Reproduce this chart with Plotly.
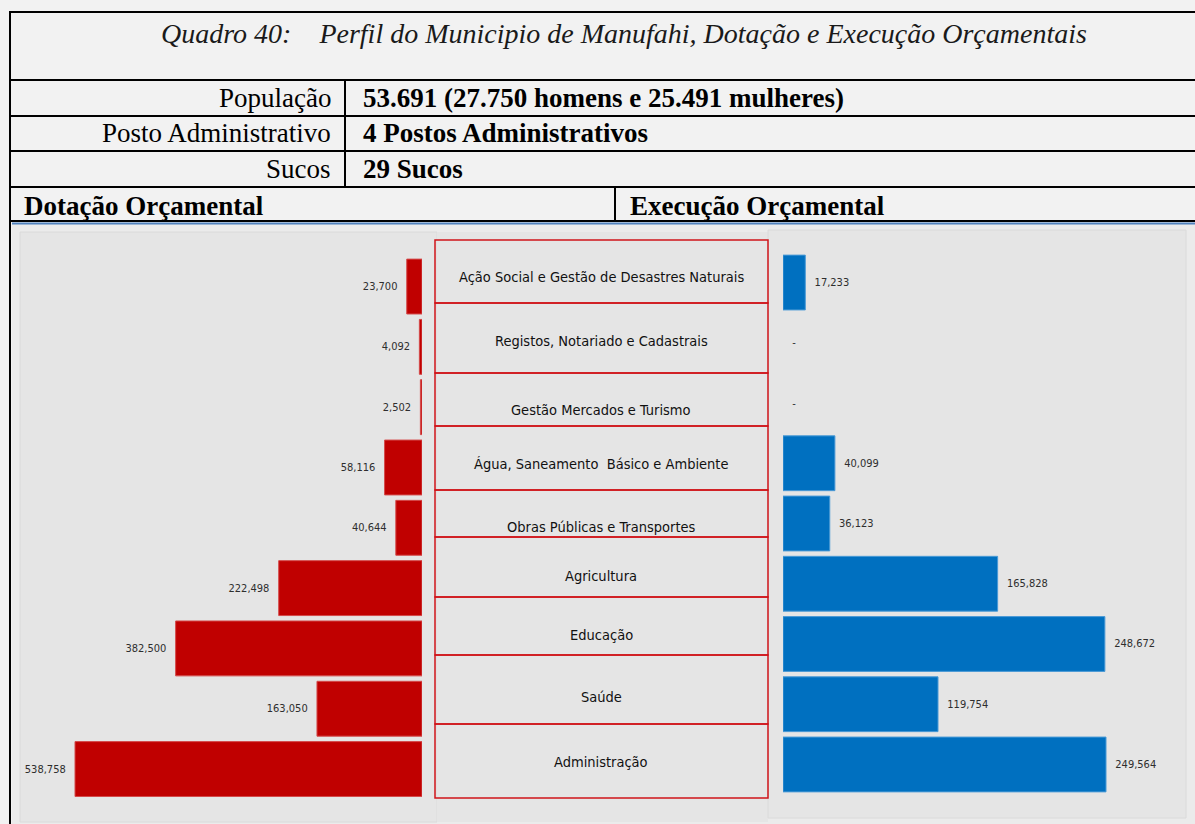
import plotly.graph_objects as go

W, H = 1195, 824

categorias = [
    "Ação Social e Gestão de Desastres Naturais",
    "Registos, Notariado e Cadastrais",
    "Gestão Mercados e Turismo",
    "Água, Saneamento  Básico e Ambiente",
    "Obras Públicas e Transportes",
    "Agricultura",
    "Educação",
    "Saúde",
    "Administração",
]
dotacao = [23700, 4092, 2502, 58116, 40644, 222498, 382500, 163050, 538758]
execucao = [17233, 0, 0, 40099, 36123, 165828, 248672, 119754, 249564]

titulo = "Quadro 40:    Perfil do Municipio de Manufahi, Dotação e Execução Orçamentais"
linhas_info = [
    ("População", "53.691 (27.750 homens e 25.491 mulheres)"),
    ("Posto Administrativo", "4 Postos Administrativos"),
    ("Sucos", "29 Sucos"),
]

SERIF = "Liberation Serif, Times New Roman, serif"
NARROW = "Liberation Sans Narrow, DejaVu Sans Condensed, Roboto Condensed, sans-serif"
NBSP = "\u00a0"


def px_x(x):
    return x / W


def px_y(y):
    return 1 - y / H


def rect(x0, y0, x1, y1, fill=None, line=None, width=1):
    return dict(type="rect", xref="paper", yref="paper", layer="below",
                x0=px_x(x0), x1=px_x(x1), y0=px_y(y1), y1=px_y(y0),
                fillcolor=fill or "rgba(0,0,0,0)",
                line=dict(color=line or "rgba(0,0,0,0)", width=width if line else 0))


def hline(y, x0, x1, color="black", width=2):
    return dict(type="line", xref="paper", yref="paper",
                x0=px_x(x0), x1=px_x(x1), y0=px_y(y), y1=px_y(y),
                line=dict(color=color, width=width))


def vline(x, y0, y1, color="black", width=2):
    return dict(type="line", xref="paper", yref="paper",
                x0=px_x(x), x1=px_x(x), y0=px_y(y0), y1=px_y(y1),
                line=dict(color=color, width=width))


def texto(t, x, y, size, family, anchor="center", color="black"):
    return dict(text=t, xref="paper", yref="paper", x=px_x(x), y=px_y(y),
                xanchor=anchor, yanchor="middle", showarrow=False,
                font=dict(family=family, size=size, color=color))


fig = go.Figure()

fig.add_trace(go.Bar(
    y=categorias, x=dotacao, orientation="h",
    marker=dict(color="#c00000", line=dict(color="#d44a4a", width=1)),
    text=[f"{v:,}" + NBSP * 2 for v in dotacao], textposition="outside",
    outsidetextfont=dict(family=NARROW, size=11, color="#2e2e2e"),
    constraintext="none", cliponaxis=False,
    xaxis="x", yaxis="y", showlegend=False,
))
fig.add_trace(go.Bar(
    y=categorias, x=execucao, orientation="h",
    marker=dict(color="#0070c0",
                line=dict(color="#4a9ad6", width=[1 if v else 0 for v in execucao])),
    text=[NBSP * 2 + (f"{v:,}" if v else "-") for v in execucao], textposition="outside",
    outsidetextfont=dict(family=NARROW, size=11, color="#2e2e2e"),
    constraintext="none", cliponaxis=False,
    xaxis="x2", yaxis="y2", showlegend=False,
))

shapes = [
    # fundo da zona dos graficos
    rect(12, 224, W, H, fill="#ebebeb"),
    rect(20, 232, 437, 822, fill="#e5e5e5", line="#dadada"),
    rect(437, 232, 768, 822, fill="#e5e5e5"),
    rect(768, 230, 1186, 818, fill="#e5e5e5", line="#dadada"),
    # quadro
    hline(12, 10, W),
    hline(80, 10, W),
    hline(116, 10, W),
    hline(151, 10, W),
    hline(187, 10, W),
    hline(221, 10, W),
    hline(223.5, 12, W, color="#4f81bd", width=2),
    vline(10, 11, H),
    vline(345, 80, 187),
    vline(615, 187, 221),
]

# caixas vermelhas das categorias
limites = [240, 303, 373, 426, 490, 537, 597, 655, 724, 798]
for a, b in zip(limites[:-1], limites[1:]):
    shapes.append(dict(type="rect", xref="paper", yref="paper", layer="above",
                       x0=px_x(435), x1=px_x(768), y0=px_y(b), y1=px_y(a),
                       line=dict(color="#d0141a", width=1.5)))

label_y = [277, 341, 410, 464, 527, 576, 635, 697, 762]
annotations = [
    texto(f"<i>{titulo}</i>", 624, 33, 28, SERIF, color="#1a1a1a"),
    texto("<b>Dotação Orçamental</b>", 22, 206, 27, SERIF, anchor="left"),
    texto("<b>Execução Orçamental</b>", 628, 206, 27, SERIF, anchor="left"),
]
for (rotulo, valor), yy in zip(linhas_info, [98, 133, 169]):
    annotations.append(texto(rotulo, 333, yy, 27, SERIF, anchor="right"))
    annotations.append(texto(f"<b>{valor}</b>", 361, yy, 27, SERIF, anchor="left"))
for cat, yy in zip(categorias, label_y):
    annotations.append(texto(cat, 601, yy, 14.5, NARROW, color="#111111"))

eixo_off = dict(showgrid=False, zeroline=False, showticklabels=False, showline=False,
                fixedrange=True)

fig.update_layout(
    width=W, height=H,
    margin=dict(l=0, r=0, t=0, b=0),
    paper_bgcolor="#f2f2f2", plot_bgcolor="rgba(0,0,0,0)",
    bargap=0.09,
    xaxis=dict(domain=[px_x(20), px_x(422)], range=[624145, 0], anchor="y", **eixo_off),
    yaxis=dict(domain=[px_y(799.2), px_y(256.4)], type="category",
               categoryorder="array", categoryarray=categorias,
               range=[8.5, -0.5], anchor="x", **eixo_off),
    xaxis2=dict(domain=[px_x(783), px_x(1186)], range=[0, 311365], anchor="y2", **eixo_off),
    yaxis2=dict(domain=[px_y(794.6), px_y(252.4)], type="category",
                categoryorder="array", categoryarray=categorias,
                range=[8.5, -0.5], anchor="x2", **eixo_off),
    shapes=shapes,
    annotations=annotations,
)

fig.write_html("out.html", config={"displayModeBar": False},
               post_script="document.body.style.margin='0';")
